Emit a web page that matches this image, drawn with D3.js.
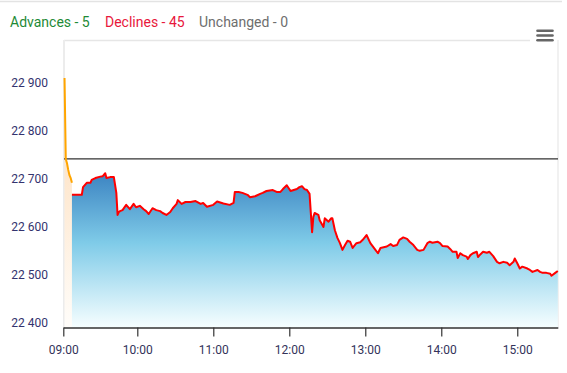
<!DOCTYPE html>
<html><head><meta charset="utf-8">
<script src="https://cdn.jsdelivr.net/npm/d3@7"></script>
<style>body{margin:0;background:#fff}svg{display:block;font-family:Roboto,"Noto Sans",sans-serif}</style>
</head><body><svg id="c" width="567" height="373"></svg>
<script>
const legendLabels = ["Advances - 5", "Declines - 45", "Unchanged - 0"];
const legendColors = ["#1e8a36", "#e8183c", "#6e6e6e"];
const yTicks = [22400, 22500, 22600, 22700, 22800, 22900];
const xTicks = ["09:00", "10:00", "11:00", "12:00", "13:00", "14:00", "15:00"];
const prevClose = 22740;
const preTimes = ["09:01","09:02","09:03","09:04","09:05","09:06","09:07"];
const preValues = [22909,22740,22731,22717,22706,22700,22690];
const times = ["09:07","09:15","09:16","09:19","09:22","09:23","09:26","09:30","09:32","09:34","09:35","09:38","09:41","09:43","09:44","09:45","09:46","09:48","09:51","09:54","09:57","09:59","10:02","10:05","10:07","10:09","10:12","10:15","10:18","10:20","10:23","10:26","10:28","10:31","10:32","10:35","10:38","10:42","10:46","10:50","10:52","10:55","11:00","11:03","11:08","11:13","11:16","11:17","11:20","11:23","11:27","11:29","11:33","11:37","11:39","11:42","11:47","11:50","11:53","11:55","11:58","12:01","12:06","12:08","12:10","12:12","12:14","12:16","12:18","12:19","12:20","12:23","12:24","12:27","12:28","12:31","12:33","12:34","12:36","12:38","12:40","12:42","12:44","12:46","12:48","12:50","12:53","12:56","12:58","13:01","13:04","13:08","13:10","13:12","13:17","13:20","13:22","13:25","13:27","13:30","13:33","13:35","13:38","13:41","13:43","13:46","13:49","13:51","13:53","13:57","13:59","14:01","14:05","14:07","14:09","14:12","14:13","14:15","14:17","14:20","14:21","14:23","14:25","14:28","14:29","14:31","14:33","14:36","14:38","14:41","14:44","14:46","14:49","14:52","14:54","14:57","14:58","15:00","15:02","15:04","15:08","15:10","15:12","15:16","15:18","15:20","15:23","15:26","15:27","15:30","15:32"];
const values = [22665,22665,22681,22690,22690,22696,22700,22703,22704,22710,22700,22702,22702,22669,22623,22629,22631,22633,22644,22635,22646,22639,22642,22635,22631,22625,22637,22633,22631,22627,22623,22629,22637,22646,22654,22646,22650,22650,22652,22646,22648,22640,22644,22651,22647,22644,22648,22671,22671,22669,22665,22660,22662,22667,22669,22673,22675,22671,22671,22677,22685,22673,22677,22681,22683,22677,22675,22667,22587,22619,22627,22623,22612,22598,22616,22609,22616,22616,22591,22575,22564,22550,22560,22569,22567,22554,22564,22566,22571,22581,22564,22550,22543,22554,22557,22562,22558,22560,22571,22576,22573,22567,22560,22550,22548,22550,22564,22567,22565,22567,22564,22558,22557,22552,22546,22546,22533,22543,22539,22536,22531,22539,22543,22546,22535,22541,22546,22544,22546,22537,22525,22522,22525,22523,22518,22525,22532,22522,22511,22515,22511,22508,22504,22508,22504,22502,22502,22500,22496,22502,22506];

const parse = d3.timeParse("%H:%M");
const svg = d3.select("#c");
const plotL = 64, plotR = 558, plotT = 41, plotB = 327.5;

const x = d3.scaleTime().domain([parse("09:00"), parse("10:00"), parse("15:32")]).range([63.3, 137.3, 557.8]);
const y = d3.scaleLinear().domain([22400, 22900]).range([321.7, 82.3]);

const pre = preTimes.map((t, i) => ({t: parse(t), v: preValues[i]}));
const n = Math.min(times.length, values.length);
const main = d3.range(n).map(i => ({t: parse(times[i]), v: values[i]}));

const defs = svg.append("defs");
const g1 = defs.append("linearGradient").attr("id", "blue").attr("x1", 0).attr("y1", 0).attr("x2", 0).attr("y2", 1);
g1.append("stop").attr("offset", 0).attr("stop-color", "#3c84c2");
g1.append("stop").attr("offset", 0.45).attr("stop-color", "#7fcbe8");
g1.append("stop").attr("offset", 1).attr("stop-color", "#f6feff");
const g2 = defs.append("linearGradient").attr("id", "peach").attr("x1", 0).attr("y1", 0).attr("x2", 0).attr("y2", 1);
g2.append("stop").attr("offset", 0).attr("stop-color", "#fdd9b2");
g2.append("stop").attr("offset", 1).attr("stop-color", "#fffdfa");

// container top border
svg.append("line").attr("x1", 0).attr("x2", 562).attr("y1", 1.5).attr("y2", 1.5)
  .attr("stroke", "#e3e3e3").attr("stroke-width", 1.5);

// legend
let lx = 10;
const legendX = [10, 105, 199];
legendLabels.forEach((l, i) => {
  svg.append("text").attr("x", legendX[i]).attr("y", 26.5).attr("font-size", 14)
    .attr("fill", legendColors[i]).text(l);
});

// plot border
svg.append("line").attr("x1", plotL).attr("x2", 530).attr("y1", 40.5).attr("y2", 40.5).attr("stroke", "#e6e6e6").attr("stroke-width", 1.5);
svg.append("line").attr("x1", plotL).attr("x2", plotL).attr("y1", 40).attr("y2", plotB).attr("stroke", "#ececec").attr("stroke-width", 2);
svg.append("line").attr("x1", plotR).attr("x2", plotR).attr("y1", 40).attr("y2", plotB).attr("stroke", "#e8e8e8").attr("stroke-width", 1.2);

// areas
const areaGen = d3.area().x(d => x(d.t)).y0(plotB).y1(d => y(d.v));
const lineGen = d3.line().x(d => x(d.t)).y(d => y(d.v));
svg.append("path").datum(pre).attr("d", areaGen).attr("fill", "url(#peach)");
svg.append("path").datum(main).attr("d", areaGen).attr("fill", "url(#blue)");

// previous close
svg.append("line").attr("x1", plotL).attr("x2", plotR).attr("y1", y(prevClose)).attr("y2", y(prevClose))
  .attr("stroke", "#333").attr("stroke-width", 1.2);

svg.append("path").datum(pre).attr("d", lineGen).attr("fill", "none").attr("stroke", "#ffa500").attr("stroke-width", 2);
svg.append("path").datum(main).attr("d", lineGen).attr("fill", "none").attr("stroke", "#ff0000").attr("stroke-width", 2).attr("stroke-linejoin", "round");

// x axis
const xa = svg.append("g").attr("transform", `translate(0,${plotB})`)
  .call(d3.axisBottom(x).tickValues(xTicks.map(parse)).tickFormat(d3.timeFormat("%H:%M")).tickSize(9).tickSizeOuter(0).tickPadding(9));
xa.select(".domain").attr("stroke", "#333").attr("stroke-width", 1.3);
xa.selectAll(".tick line").attr("stroke", "#333").attr("stroke-width", 1.2);
xa.selectAll("text").attr("font-size", 12).attr("fill", "#33335a").attr("font-family", "Roboto, sans-serif");

// y axis
const ya = svg.append("g").attr("transform", `translate(${plotL},0)`)
  .call(d3.axisLeft(y).tickValues(yTicks).tickFormat(d => d3.format(",")(d).replace(",", " ")).tickSize(0).tickPadding(16));
ya.select(".domain").remove();
ya.selectAll("text").attr("font-size", 12).attr("fill", "#33336e").attr("dy", "0.38em").attr("font-family", "Roboto, sans-serif");

// menu button
const menu = svg.append("g").attr("stroke", "#666").attr("stroke-width", 2.6).attr("stroke-linecap", "round");
[30.8, 35.5, 40.2].forEach(yy => menu.append("line").attr("x1", 537.5).attr("x2", 552.5).attr("y1", yy).attr("y2", yy));
</script></body></html>
